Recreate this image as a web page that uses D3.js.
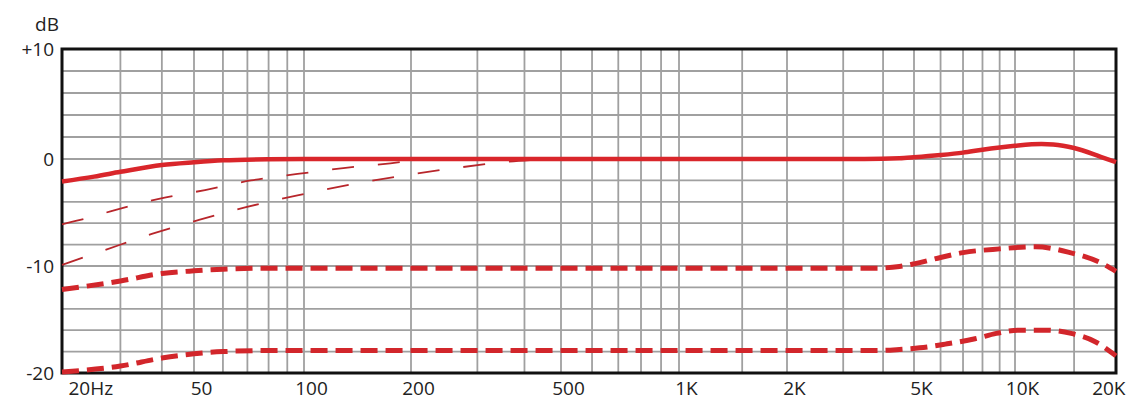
<!DOCTYPE html>
<html>
<head>
<meta charset="utf-8">
<script src="https://cdn.jsdelivr.net/npm/d3@7"></script>
<style>
  body { margin: 0; background: #fff; }
  svg { display: block; }
  text { font-family: "Open Sans", sans-serif; fill: #222; }
</style>
</head>
<body>
<svg width="1140" height="415"></svg>
<script>
// frequency ticks (labelled) and the extra grid lines
var freqTicks = [20, 50, 100, 200, 500, 1000, 2000, 5000, 10000, 20000]
var freqLabels = ['20Hz', '50', '100', '200', '500', '1K', '2K', '5K', '10K', '20K']
var gridFreqs = [20, 30, 40, 50, 60, 70, 80, 90, 100, 200, 300, 400, 500, 600, 700, 800, 900,
    1000, 1500, 2000, 3000, 4000, 5000, 6000, 7000, 8000, 9000, 10000, 15000, 20000]

var dbTicks = [10, 0, -10, -20]
var dbLabels = ['+10', '0', '-10', '-20']
var gridDb = [10, 8, 6, 4, 2, 0, -2, -4, -6, -8, -10, -12, -14, -16, -18, -20]

// [frequency Hz, dB]
var solid = [[20, -2.1], [25, -1.65], [30, -1.2], [40, -0.56], [50, -0.3], [60, -0.12], [80, -0.02],
    [100, 0], [1000, 0], [3500, 0], [4500, 0.07], [5000, 0.16], [6000, 0.36], [7000, 0.58], [8000, 0.85],
    [9000, 1.05], [10000, 1.2], [12000, 1.36], [13000, 1.32], [15000, 1.0], [18000, 0.2], [20000, -0.3]]

var dashedHigh = [[20, -12.2], [30, -11.4], [40, -10.7], [50, -10.45], [60, -10.3], [80, -10.2],
    [100, -10.2], [1000, -10.2], [3800, -10.2], [4500, -10.05], [5000, -9.8], [6000, -9.2], [7000, -8.75],
    [9000, -8.4], [11500, -8.2], [14400, -8.7], [18000, -9.7], [20000, -10.5]]

var dashedLow = [[20, -19.9], [30, -19.35], [40, -18.6], [50, -18.2], [60, -18.0], [80, -17.9],
    [100, -17.9], [1000, -17.9], [3800, -17.9], [4500, -17.8], [5200, -17.65], [6200, -17.3], [7600, -16.8],
    [8800, -16.3], [10300, -16.0], [12500, -16.0], [14700, -16.3], [17400, -17.1], [20000, -18.4]]

var cutA = [[20, -6.1], [22.7, -5.7], [28.7, -4.8], [39.5, -3.7], [53.6, -2.9], [71.6, -2.0],
    [96, -1.4], [129, -0.85], [175, -0.4], [211, -0.1], [240, 0]]

var cutB = [[20, -9.9], [27, -8.5], [37.3, -7.0], [51.6, -5.7], [69.4, -4.5], [96, -3.4],
    [135, -2.4], [186, -1.6], [262, -0.85], [351, -0.3], [414, -0.1], [460, 0]]

var svg = d3.select('svg')

// the printed grid is not a pure log scale, so the scale is piecewise log
var x = d3.scaleLog()
    .domain(freqTicks)
    .range([62, 194, 304, 411, 561, 679, 787, 914, 1015, 1116])

var y = d3.scaleLinear()
    .domain([-20, 0, 10])
    .range([373, 159, 49])

var grid = svg.append('g')
    .attr('stroke', '#a0a0a0')
    .attr('stroke-width', 1.8)

grid.selectAll('.v')
    .data(gridFreqs)
    .enter()
    .append('line')
    .attr('x1', function(d){ return x(d) })
    .attr('x2', function(d){ return x(d) })
    .attr('y1', y(10))
    .attr('y2', y(-20))

grid.selectAll('.h')
    .data(gridDb)
    .enter()
    .append('line')
    .attr('x1', x(20))
    .attr('x2', x(20000))
    .attr('y1', function(d){ return y(d) })
    .attr('y2', function(d){ return y(d) })

svg.append('rect')
    .attr('x', x(20))
    .attr('y', y(10))
    .attr('width', x(20000) - x(20))
    .attr('height', y(-20) - y(10))
    .attr('fill', 'none')
    .attr('stroke', '#111')
    .attr('stroke-width', 3)

var line = d3.line()
    .x(function(d){ return x(d[0]) })
    .y(function(d){ return y(d[1]) })
    .curve(d3.curveMonotoneX)

var series = [
    { data: cutA, color: '#b8262b', width: 1.8, dash: '22,24' },
    { data: cutB, color: '#b8262b', width: 1.8, dash: '22,24' },
    { data: dashedLow, color: '#d2262b', width: 5, dash: '17,8' },
    { data: dashedHigh, color: '#d2262b', width: 5, dash: '17,8' },
    { data: solid, color: '#d9262b', width: 4.5, dash: null }
]

svg.selectAll('.curve')
    .data(series)
    .enter()
    .append('path')
    .attr('class', 'curve')
    .attr('d', function(d){ return line(d.data) })
    .attr('fill', 'none')
    .attr('stroke', function(d){ return d.color })
    .attr('stroke-width', function(d){ return d.width })
    .attr('stroke-dasharray', function(d){ return d.dash })

// axes: labels only
var xAxis = d3.axisBottom(x)
    .tickValues(freqTicks)
    .tickFormat(function(d, i){ return freqLabels[i] })
    .tickSize(0)
    .tickPadding(9)

var gx = svg.append('g')
    .attr('transform', 'translate(0,' + y(-20) + ')')
    .call(xAxis)

var yAxis = d3.axisLeft(y)
    .tickValues(dbTicks)
    .tickFormat(function(d, i){ return dbLabels[i] })
    .tickSize(0)
    .tickPadding(8)

var gy = svg.append('g')
    .attr('transform', 'translate(' + x(20) + ',0)')
    .call(yAxis)

svg.selectAll('.domain').remove()

svg.selectAll('.tick text')
    .style('font-size', '19px')
    .style('font-family', '"Open Sans", sans-serif')
    .attr('fill', '#222')

gx.selectAll('.tick text')
    .attr('dx', 7)
    .filter(function(d, i){ return i === 0 })
    .attr('text-anchor', 'start')
    .attr('dx', 6)

gx.selectAll('.tick text')
    .filter(function(d, i){ return i === freqTicks.length - 1 })
    .attr('text-anchor', 'end')
    .attr('dx', 9)

svg.append('text')
    .attr('x', x(20) - 15)
    .attr('y', 31)
    .attr('text-anchor', 'middle')
    .style('font-size', '19px')
    .text('dB')
</script>
</body>
</html>
